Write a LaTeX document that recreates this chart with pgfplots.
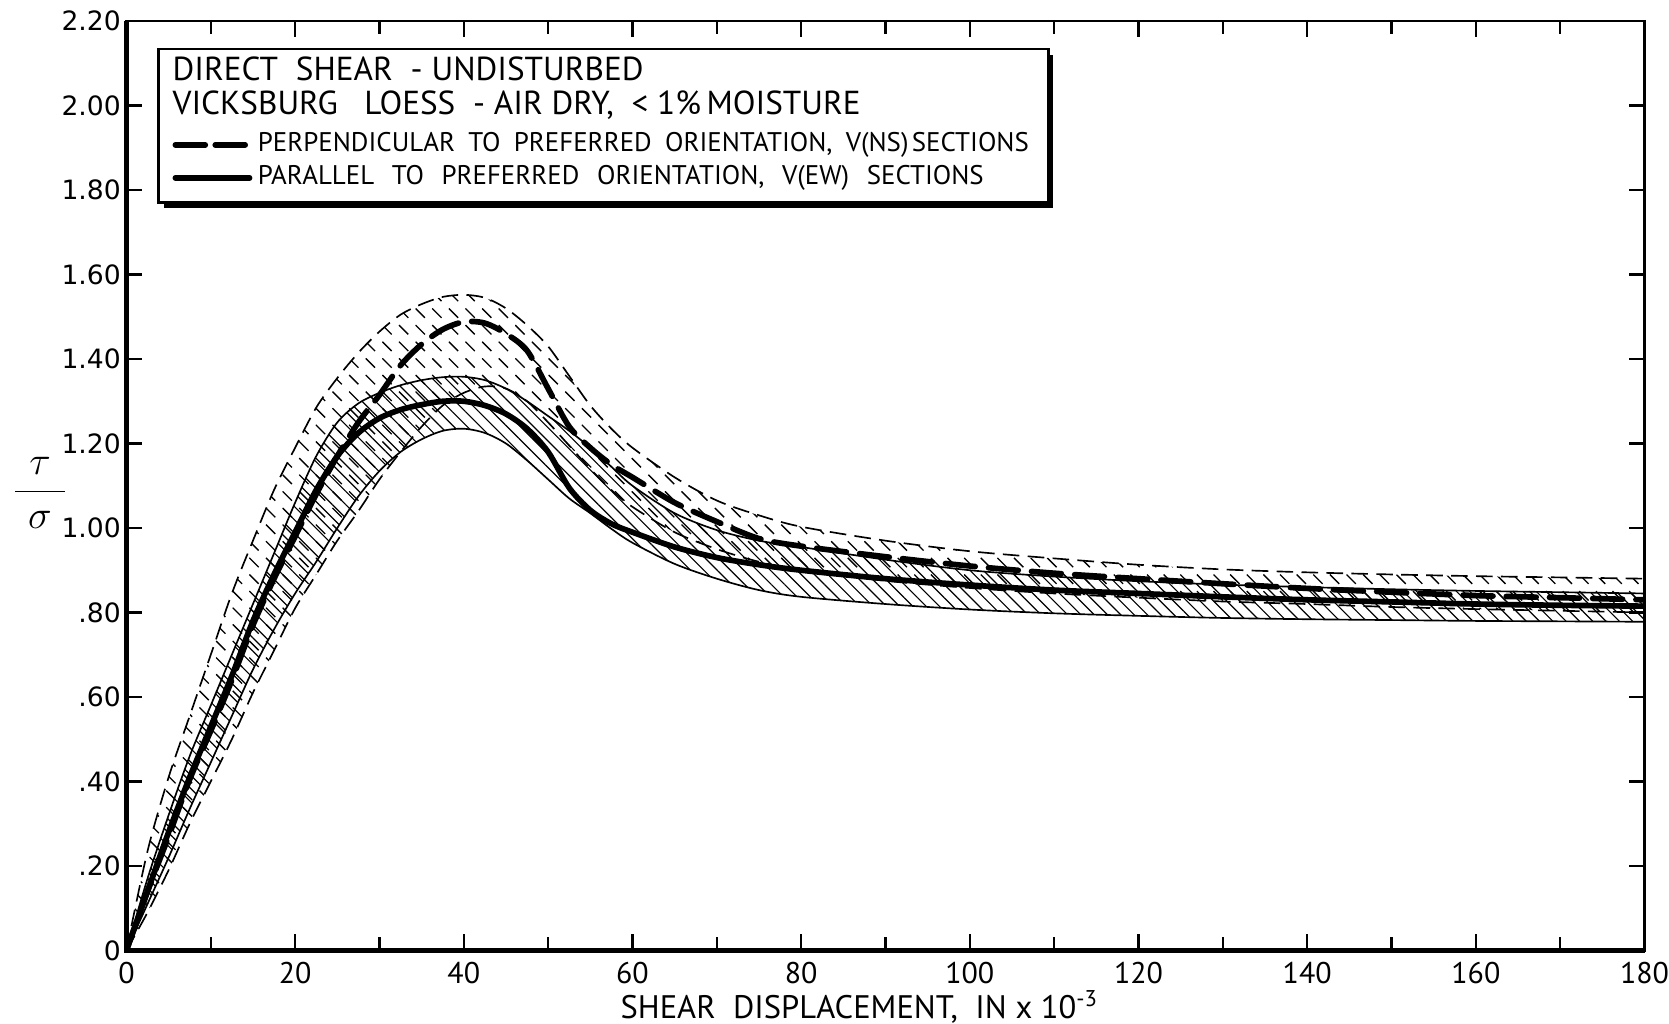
\documentclass[border=0pt]{standalone}
\usepackage{fontspec}
\setmainfont{PT Sans}
\newfontfamily\numfont{DejaVu Sans}
\usepackage{pgfplots}
\pgfplotsset{compat=1.18}
\usepackage{pgfplotstable}
\usepgfplotslibrary{fillbetween}
\usetikzlibrary{patterns}

% thin solid hatch (EW band) and dashed hatch (NS band)
\pgfdeclarepatternformonly{ewhatch}{\pgfpoint{-0.1pt}{-0.1pt}}{\pgfpoint{4.1pt}{4.1pt}}{\pgfpoint{4pt}{4pt}}{%
  \pgfsetlinewidth{0.35pt}
  \pgfpathmoveto{\pgfpoint{0pt}{4pt}}
  \pgfpathlineto{\pgfpoint{4pt}{0pt}}
  \pgfusepath{stroke}}
\pgfdeclarepatternformonly{nshatch}{\pgfpoint{-0.1pt}{-0.1pt}}{\pgfpoint{5.1pt}{5.1pt}}{\pgfpoint{5pt}{5pt}}{%
  \pgfsetlinewidth{0.4pt}
  \pgfpathmoveto{\pgfpoint{0pt}{5pt}}
  \pgfpathlineto{\pgfpoint{2.8pt}{2.2pt}}
  \pgfusepath{stroke}}

% tau/sigma vs shear displacement (in x 10^-3)
\pgfplotstableread{
x     nsU    nsM    nsL    ewU    ewM    ewL
0     0      0      0      0      0      0
2.5   0.235  0.14   0.09   0.17   0.14   0.11
5     0.41   0.27   0.19   0.32   0.28   0.22
7.5   0.555  0.405  0.30   0.46   0.41   0.335
10    0.70   0.52   0.40   0.58   0.53   0.445
12.5  0.845  0.64   0.50   0.70   0.65   0.555
15    0.97   0.77   0.61   0.82   0.78   0.665
17.5  1.09   0.88   0.71   0.94   0.89   0.76
20    1.19   0.98   0.81   1.06   0.99   0.845
22.5  1.285  1.08   0.89   1.17   1.09   0.92
25    1.355  1.17   0.97   1.25   1.17   1.00
27.5  1.415  1.25   1.04   1.295  1.225  1.075
30    1.465  1.315  1.115  1.32   1.26   1.135
32.5  1.505  1.385  1.18   1.338  1.28   1.18
35    1.53   1.435  1.24   1.35   1.292  1.21
37.5  1.547  1.47   1.29   1.357  1.30   1.23
40    1.552  1.488  1.32   1.358  1.30   1.235
42.5  1.545  1.485  1.335  1.35   1.29   1.225
45    1.52   1.46   1.33   1.33   1.27   1.20
47.5  1.48   1.42   1.30   1.30   1.235  1.16
50    1.43   1.33   1.25   1.265  1.18   1.115
52.5  1.36   1.24   1.195  1.23   1.095  1.07
55    1.29   1.19   1.14   1.19   1.042  1.035
57.5  1.235  1.15   1.09   1.145  1.01   0.998
60    1.19   1.12   1.05   1.10   0.99   0.965
65    1.12   1.06   0.99   1.035  0.955  0.915
70    1.065  1.015  0.95   0.995  0.93   0.88
75    1.03   0.975  0.92   0.97   0.913  0.853
80    1.003  0.957  0.90   0.955  0.90   0.837
90    0.97   0.932  0.875  0.925  0.88   0.82
100   0.945  0.91   0.858  0.90   0.865  0.807
110   0.928  0.893  0.845  0.885  0.853  0.798
120   0.913  0.88   0.835  0.874  0.845  0.792
130   0.902  0.868  0.826  0.866  0.837  0.787
140   0.895  0.857  0.82   0.86   0.83   0.784
150   0.89   0.848  0.813  0.855  0.825  0.782
160   0.886  0.84   0.808  0.851  0.82   0.78
170   0.883  0.835  0.804  0.848  0.817  0.779
180   0.88   0.83   0.80   0.845  0.815  0.778
}\curves

\begin{document}
\begin{tikzpicture}
\begin{axis}[
    set layers,
    clip mode=individual,
    scale only axis,
    width=456.6pt, height=279.5pt,
    xmin=0, xmax=180, ymin=0, ymax=2.2,
    xtick={0,20,...,180},
    minor xtick={10,30,...,170},
    ytick={0,0.2,0.4,0.6,0.8,1.0,1.2,1.4,1.6,1.8,2.0,2.2},
    yticklabels={0,.20,.40,.60,.80,1.00,1.20,1.40,1.60,1.80,2.00,2.20},
    tick align=inside,
    xtick pos=both, ytick pos=both,
    major tick length=4.8pt, minor tick length=4pt,
    tick style={line width=0.7pt, black},
    axis line style={line width=0.7pt},
    /pgf/number format/assume math mode=true,
    xticklabel style={font=\fontsize{9}{10}\selectfont, inner xsep=0pt},
    yticklabel style={font=\numfont\fontsize{8}{9}\selectfont, inner xsep=1.5pt},
    xlabel={SHEAR\ \ DISPLACEMENT,\ \ IN\ x\ 10\textsuperscript{-3}},
    every axis x label/.style={at={(rel axis cs:0.483,0)}, anchor=center, yshift=-17pt,
        inner sep=0pt, font=\fontsize{9.8}{11}\selectfont},
    ylabel={$\displaystyle\frac{\makebox[15pt]{$\tau$}}{\sigma}$},
    every axis y label/.style={at={(rel axis cs:0,0.492)}, anchor=center, xshift=-26pt,
        font=\large},
]
% envelopes and mean curves
\addplot[name path=nsU, smooth, line width=0.5pt, dash pattern=on 5pt off 2.5pt] table[x=x, y=nsU]{\curves};
\addplot[name path=nsL, smooth, line width=0.5pt, dash pattern=on 5pt off 2.5pt] table[x=x, y=nsL]{\curves};
\addplot[name path=ewU, smooth, line width=0.5pt] table[x=x, y=ewU]{\curves};
\addplot[name path=ewL, smooth, line width=0.5pt] table[x=x, y=ewL]{\curves};
\addplot[smooth, line width=1.7pt, line cap=round, dash pattern=on 9pt off 4pt] table[x=x, y=nsM]{\curves};
\addplot[smooth, line width=1.7pt] table[x=x, y=ewM]{\curves};
% hatched scatter bands
\addplot[pattern=nshatch] fill between[of=nsU and nsL];
\addplot[pattern=ewhatch] fill between[of=ewU and ewL];

% heavy left and bottom axis lines
\draw[line width=1.4pt] (rel axis cs:0,1) -- (rel axis cs:0,0) -- (rel axis cs:1,0);

% legend box
\draw[line width=0.9pt, fill=white] (axis cs:3.8,2.134) rectangle (axis cs:109.3,1.771);
\draw[line width=1.6pt] (axis cs:4.4,1.765) -- (axis cs:109.6,1.765) -- (axis cs:109.6,2.12);
\node[anchor=west, inner sep=0, font=\fontsize{10}{11}\selectfont] at (axis cs:5.4,2.086)
    {DIRECT\ \ SHEAR\ \ - UNDISTURBED};
\node[anchor=west, inner sep=0, font=\fontsize{10}{11}\selectfont] at (axis cs:5.4,2.002)
    {VICKSBURG\ \ \ LOESS\ \ - AIR DRY,\ \ < 1\%\,MOISTURE};
\draw[line width=1.7pt, line cap=round, dash pattern=on 9pt off 3pt] (axis cs:5.8,1.907) -- (axis cs:14.6,1.907);
\draw[line width=1.7pt, line cap=round] (axis cs:5.8,1.829) -- (axis cs:14.6,1.829);
\node[anchor=west, inner sep=0, font=\fontsize{8.1}{9}\selectfont] at (axis cs:15.5,1.907)
    {PERPENDICULAR\hspace{4.0pt}TO\hspace{4.0pt}PREFERRED\hspace{4.0pt}ORIENTATION,\hspace{4.0pt}V(NS)\hspace{1pt}SECTIONS};
\node[anchor=west, inner sep=0, font=\fontsize{8.1}{9}\selectfont] at (axis cs:15.5,1.829)
    {PARALLEL\hspace{5.3pt}TO\hspace{5.3pt}PREFERRED\hspace{5.3pt}ORIENTATION,\hspace{5.3pt}V(EW)\hspace{5.3pt}SECTIONS};
\end{axis}
\end{tikzpicture}
\end{document}
